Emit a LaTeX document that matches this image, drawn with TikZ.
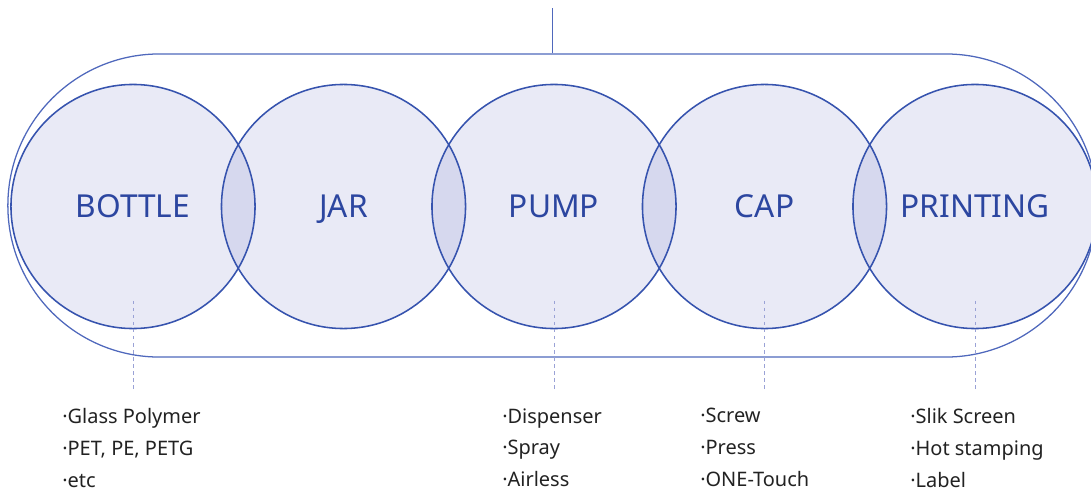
\documentclass[tikz,border=0pt]{standalone}
\usepackage{fontspec}
\setmainfont{Noto Sans}
\usetikzlibrary{shapes.misc}
\definecolor{ringblue}{HTML}{3653AE}
\definecolor{framecol}{HTML}{4F68BC}
\definecolor{bubblefill}{HTML}{E9EAF6}
\definecolor{lensfill}{HTML}{D6D8EE}
\definecolor{labelblue}{HTML}{2C46A0}
\definecolor{dashcol}{HTML}{9AA2D6}
\definecolor{itemcol}{HTML}{222222}
\def\rad{3.05cm}

\begin{document}
\begin{tikzpicture}[x=0.025cm,y=-0.025cm,
	bubble/.style={circle,fill=bubblefill,minimum size=6.1cm,inner sep=0pt,
		text height=16pt,text depth=0pt,
		text=labelblue,font=\fontsize{22.5}{27}\selectfont},
	ring/.style={draw=ringblue,line width=1.1pt},
	frameline/.style={draw=framecol,line width=0.9pt},
	dashline/.style={dashcol,line width=0.7pt,dash pattern=on 2.5pt off 2.5pt},
	itemlist/.style={anchor=north west,align=left,inner sep=0pt,text=itemcol,
		font=\fontsize{14.2}{22.6}\selectfont}]
			%%%%% START %%%%%
			
			\useasboundingbox (0,0) rectangle (1091,493);
			\clip (0,0) rectangle (1091,493);
			
			\node[rounded rectangle,frameline,minimum width=27.225cm,minimum height=7.575cm,inner sep=0pt] (frame) at (552.5,205.5) {};
			\coordinate (feed) at (552.5,8);
			\draw[frameline] (frame.north) -- (feed);
			
			\foreach \name/\x/\txt in {bottle/133/BOTTLE,jar/343.5/JAR,pump/554/PUMP,cap/764.5/CAP,printing/975/PRINTING}
				\node[bubble] (\name) at (\x,206.5) {\txt};
			
			\foreach \a/\b in {bottle/jar,jar/pump,pump/cap,cap/printing}{
				\begin{scope}
					\clip (\a.center) circle (\rad);
					\fill[lensfill] (\b.center) circle (\rad);
				\end{scope}
			}
			
			\foreach \name in {bottle,jar,pump,cap,printing}
				\draw[ring] (\name.center) circle (\rad);
			
			\node[itemlist] (botlist) at (62,408) {·Glass Polymer\\·PET, PE, PETG\\·etc};
			\node[itemlist] (pumplist) at (502,408) {·Dispenser\\·Spray\\·Airless};
			\node[itemlist] (caplist) at (700,408) {·Screw\\·Press\\·ONE-Touch};
			\node[itemlist] (printlist) at (910,408) {·Slik Screen\\·Hot stamping\\·Label};
			
			\coordinate (botend) at (133,390);
			\coordinate (pumpend) at (554,390);
			\coordinate (capend) at (764.5,390);
			\coordinate (printend) at (975,390);
			\draw[dashline] ([yshift=0.7cm]bottle.south) -- (botend);
			\draw[dashline] ([yshift=0.7cm]pump.south) -- (pumpend);
			\draw[dashline] ([yshift=0.7cm]cap.south) -- (capend);
			\draw[dashline] ([yshift=0.7cm]printing.south) -- (printend);
			
			%%%%% END %%%%%
\end{tikzpicture}
\end{document}
